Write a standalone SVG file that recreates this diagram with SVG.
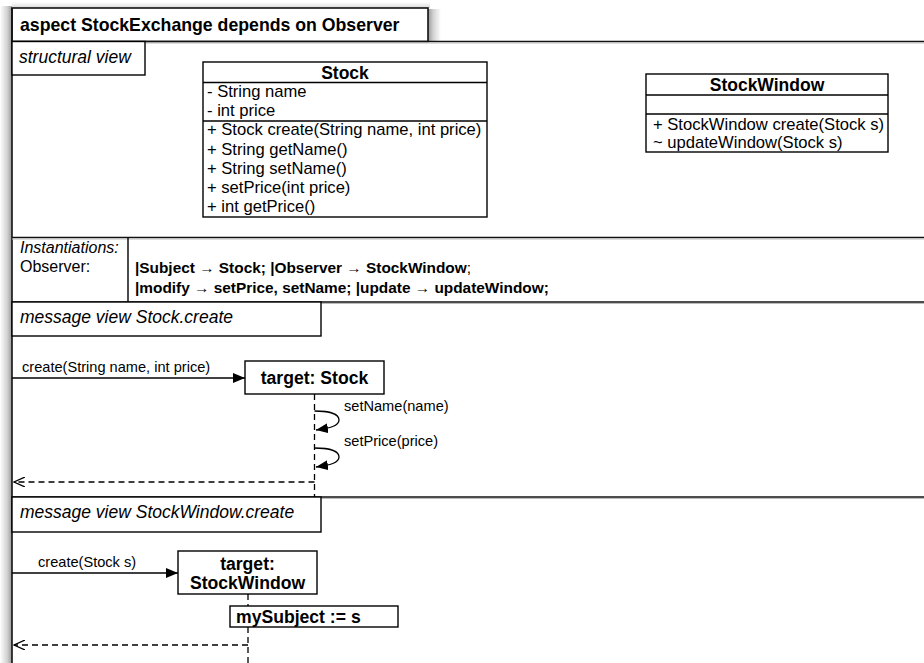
<svg xmlns="http://www.w3.org/2000/svg" width="924" height="663" viewBox="0 0 924 663">
  <defs>
    <linearGradient id="shadeLeft" x1="0" y1="0" x2="1" y2="0">
      <stop offset="0" stop-color="#000" stop-opacity="0"/>
      <stop offset="0.6" stop-color="#000" stop-opacity="0.18"/>
      <stop offset="1" stop-color="#000" stop-opacity="0.4"/>
    </linearGradient>
    <linearGradient id="shadeRight" x1="0" y1="0" x2="1" y2="0">
      <stop offset="0" stop-color="#000" stop-opacity="0.4"/>
      <stop offset="0.4" stop-color="#000" stop-opacity="0.18"/>
      <stop offset="1" stop-color="#000" stop-opacity="0"/>
    </linearGradient>
    <linearGradient id="shadeTop" x1="0" y1="0" x2="0" y2="1">
      <stop offset="0" stop-color="#000" stop-opacity="0"/>
      <stop offset="1" stop-color="#000" stop-opacity="0.15"/>
    </linearGradient>
    <marker id="filled" viewBox="0 0 12 10" refX="12" refY="5" markerWidth="12" markerHeight="10" markerUnits="userSpaceOnUse" orient="auto">
      <path d="M0,0 L12,5 L0,10 Z" fill="#000"/>
    </marker>
    <marker id="open" viewBox="0 0 12 10" refX="11" refY="5" markerWidth="12" markerHeight="10" markerUnits="userSpaceOnUse" orient="auto">
      <path d="M0,0 L11,5 L0,10" fill="none" stroke="#000" stroke-width="1.3"/>
    </marker>
  </defs>
  <style>
    text { font-family: "Liberation Sans", Arial, sans-serif; fill: #000; }
    .title { font-size: 17.7px; font-weight: bold; }
    .it { font-size: 17.5px; font-style: italic; }
    .cls { font-size: 16.6px; }
    .clsb { font-size: 17.5px; font-weight: bold; }
    .lbl { font-size: 14.6px; }
    .inst { font-size: 16px; }
    .instb { font-size: 15.4px; font-weight: bold; }
    .obj { font-size: 17.6px; font-weight: bold; }
    .box { fill: #fff; stroke: #000; stroke-width: 1.4; }
    .sep { stroke: #000; stroke-width: 1.4; fill: none; }
    .frame { stroke: #111; stroke-width: 1.6; fill: none; }
    .life { stroke: #000; stroke-width: 1.3; stroke-dasharray: 6 4; fill: none; }
    .msg { stroke: #000; stroke-width: 1.3; fill: none; }
    .ret { stroke: #000; stroke-width: 1.3; stroke-dasharray: 6 4; fill: none; }
  </style>

  <rect width="924" height="663" fill="#fff"/>

  <!-- aspect frame with its title tab -->
  <g id="frame">
    <!-- soft drop shadow around the frame -->
    <rect x="0" y="6" width="12" height="657" fill="url(#shadeLeft)"/>
    <rect x="428" y="9" width="13" height="33" fill="url(#shadeRight)"/>
    <rect x="12" y="2" width="418" height="6" fill="url(#shadeTop)"/>
    <rect x="12" y="8" width="416" height="33.5" fill="#fff" stroke="#111" stroke-width="1.6"/>
    <line class="frame" x1="12" y1="8" x2="12" y2="663"/>
    <line class="frame" x1="12" y1="41.5" x2="924" y2="41.5"/>
    <line x1="12" y1="43" x2="924" y2="43" stroke="#bbb" stroke-width="1"/>
    <text class="title" x="20" y="30.5">aspect StockExchange depends on Observer</text>
    <!-- section separators -->
    <line class="frame" x1="12" y1="237.5" x2="924" y2="237.5"/>
    <line x1="12" y1="239" x2="924" y2="239" stroke="#bbb" stroke-width="1"/>
    <line class="frame" x1="12" y1="302" x2="924" y2="302"/>
    <line x1="12" y1="303.5" x2="924" y2="303.5" stroke="#bbb" stroke-width="1"/>
    <line class="frame" x1="12" y1="497" x2="924" y2="497"/>
    <line x1="12" y1="498.5" x2="924" y2="498.5" stroke="#bbb" stroke-width="1"/>
  </g>

  <!-- structural view -->
  <g id="structural-view">
    <rect class="box" x="12" y="41.5" width="133" height="33.5"/>
    <text class="it" x="19" y="63">structural view</text>
  </g>

  <g id="Stock">
    <rect class="box" x="203" y="62" width="284" height="155"/>
    <line class="sep" x1="203" y1="82.5" x2="487" y2="82.5"/>
    <line class="sep" x1="203" y1="121" x2="487" y2="121"/>
    <text class="clsb" x="345" y="78.5" text-anchor="middle">Stock</text>
    <text class="cls" x="207" y="97">- String name</text>
    <text class="cls" x="207" y="116">- int price</text>
    <text class="cls" x="207" y="135">+ Stock create(String name, int price)</text>
    <text class="cls" x="207" y="154.5">+ String getName()</text>
    <text class="cls" x="207" y="174">+ String setName()</text>
    <text class="cls" x="207" y="193">+ setPrice(int price)</text>
    <text class="cls" x="207" y="212">+ int getPrice()</text>
  </g>

  <g id="StockWindow">
    <rect class="box" x="646" y="74" width="242" height="78"/>
    <line class="sep" x1="646" y1="95" x2="888" y2="95"/>
    <line class="sep" x1="646" y1="114" x2="888" y2="114"/>
    <text class="clsb" x="767" y="90.5" text-anchor="middle">StockWindow</text>
    <text class="cls" x="653" y="129.5">+ StockWindow create(Stock s)</text>
    <text class="cls" x="653" y="148">~ updateWindow(Stock s)</text>
  </g>

  <!-- instantiations -->
  <g id="instantiations">
    <line class="sep" x1="128" y1="237.5" x2="128" y2="302"/>
    <text class="it" x="20" y="253" style="font-size:16px">Instantiations:</text>
    <text class="inst" x="20" y="272">Observer:</text>
    <text class="instb" x="135" y="273">|Subject → Stock; |Observer → StockWindow<tspan font-weight="normal">;</tspan></text>
    <text class="instb" x="135" y="293">|modify → setPrice, setName; |update → updateWindow;</text>
  </g>

  <!-- message view Stock.create -->
  <g id="mv-stock-create">
    <rect class="box" x="12" y="302" width="309" height="34"/>
    <text class="it" x="20" y="323">message view Stock.create</text>
  </g>

  <g id="target-stock">
    <rect class="box" x="245" y="361" width="139" height="33"/>
    <text class="obj" x="314.5" y="384" text-anchor="middle">target: Stock</text>
  </g>

  <!-- message view StockWindow.create -->
  <g id="mv-stockwindow-create">
    <rect class="box" x="12" y="497" width="309" height="35"/>
    <text class="it" x="20" y="518">message view StockWindow.create</text>
  </g>

  <g id="target-stockwindow">
    <rect class="box" x="178" y="551" width="139" height="43"/>
    <text class="obj" x="247.5" y="569.5" text-anchor="middle">target:</text>
    <text class="obj" x="247.5" y="588.5" text-anchor="middle">StockWindow</text>
  </g>

  <g id="assignment">
    <rect class="box" x="230" y="606" width="168" height="21"/>
    <text class="obj" x="236" y="622.5">mySubject := s</text>
  </g>

  <!-- messages and lifelines -->
  <g id="connectors">
    <line class="life" x1="314.5" y1="394" x2="314.5" y2="497"/>
    <line class="msg" x1="12" y1="378" x2="245" y2="378" marker-end="url(#filled)"/>
    <text class="lbl" x="22" y="372">create(String name, int price)</text>
    <path class="msg" d="M314.5,411 C326,411 339,413 339,420 C339,426 330,428 316,430" marker-end="url(#filled)"/>
    <text class="lbl" x="344" y="411">setName(name)</text>
    <path class="msg" d="M314.5,448 C326,448 339,450 339,457 C339,463 330,465 316,467" marker-end="url(#filled)"/>
    <text class="lbl" x="344" y="446">setPrice(price)</text>
    <line class="ret" x1="314.5" y1="482" x2="14" y2="482" marker-end="url(#open)"/>

    <line class="life" x1="248" y1="594" x2="248" y2="606"/>
    <line class="life" x1="248" y1="627" x2="248" y2="663"/>
    <line class="msg" x1="12" y1="573" x2="178" y2="573" marker-end="url(#filled)"/>
    <text class="lbl" x="38" y="567">create(Stock s)</text>
    <line class="ret" x1="248" y1="645" x2="14" y2="645" marker-end="url(#open)"/>
  </g>
</svg>
